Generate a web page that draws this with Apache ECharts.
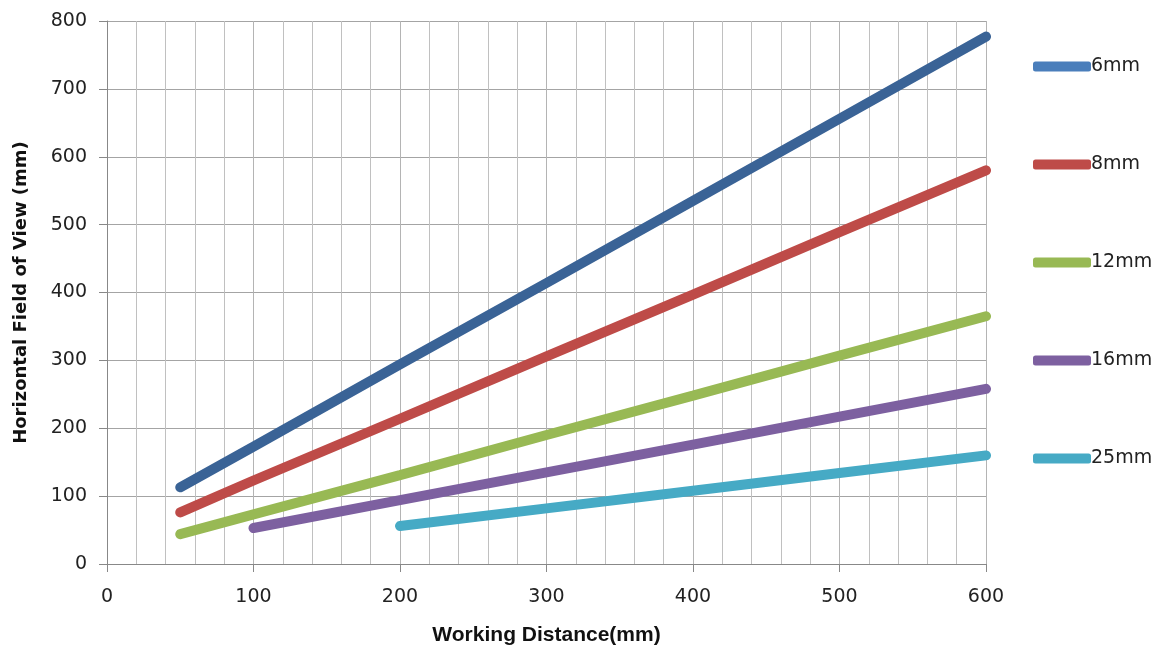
<!DOCTYPE html>
<html>
<head>
<meta charset="utf-8">
<script src="https://cdn.jsdelivr.net/npm/echarts@6/dist/echarts.min.js"></script>
<style>
  html, body { margin: 0; padding: 0; background: #fff; }
  #chart { width: 1167px; height: 652px; }
</style>
</head>
<body>
<div id="chart"></div>
<script>
// working distance (mm) -> horizontal field of view (mm)
const lens6 = [[50, 113], [100, 173], [200, 294], [300, 414], [400, 535], [500, 656], [600, 777]];
const lens8 = [[50, 76], [100, 123], [200, 214], [300, 306], [400, 397], [500, 489], [600, 580]];
const lens12 = [[50, 44], [100, 73], [200, 131], [300, 190], [400, 248], [500, 307], [600, 365]];
const lens16 = [[100, 53], [200, 94], [300, 135], [400, 176], [500, 217], [600, 258]];
const lens25 = [[200, 56], [300, 82], [400, 108], [500, 134], [600, 160]];

const names = ['6mm', '8mm', '12mm', '16mm', '25mm'];
const lineColors = ['#3a6396', '#be4b48', '#98b954', '#7d60a0', '#46aac5'];
const legendColors = ['#4a7ebb', '#be4b48', '#98b954', '#7d60a0', '#46aac5'];
const seriesData = [lens6, lens8, lens12, lens16, lens25];

function init() {
    let option = {
        animation: false,
        grid: {
            left: 107,
            right: 181,
            top: 21,
            bottom: 88
        },
        legend: {
            orient: 'vertical',
            left: 1033,
            top: 57,
            padding: 0,
            itemGap: 79,
            itemWidth: 58,
            itemHeight: 10,
            icon: 'roundRect',
            textStyle: {
                fontFamily: 'DejaVu Sans',
                fontSize: 19,
                color: '#222',
                padding: [0, 0, 0, -5]
            },
            data: names.map((n, i) => ({ name: n, itemStyle: { color: legendColors[i] } }))
        },
        xAxis: {
            type: 'value',
            min: 0,
            max: 600,
            interval: 100,
            name: 'Working Distance(mm)',
            nameLocation: 'middle',
            nameGap: 61,
            nameTextStyle: {
                fontFamily: 'Liberation Sans',
                fontWeight: 'bold',
                fontSize: 21,
                color: '#111'
            },
            axisLine: { show: true, lineStyle: { color: '#888', width: 1 } },
            axisTick: { show: true, length: 8, lineStyle: { color: '#888' } },
            axisLabel: {
                margin: 24,
                fontFamily: 'DejaVu Sans',
                fontSize: 19,
                color: '#222'
            },
            splitLine: { show: true, lineStyle: { color: '#b4b4b4', width: 1 } },
            minorTick: { show: false, splitNumber: 5 },
            minorSplitLine: { show: true, lineStyle: { color: '#c0c0c0', width: 1 } }
        },
        yAxis: {
            type: 'value',
            min: 0,
            max: 800,
            interval: 100,
            name: 'Horizontal Field of View (mm)',
            nameLocation: 'middle',
            nameGap: 77,
            nameTextStyle: {
                fontFamily: 'DejaVu Sans',
                fontWeight: 'bold',
                fontSize: 18,
                color: '#111'
            },
            axisLine: { show: true, lineStyle: { color: '#888', width: 1 } },
            axisTick: { show: true, length: 8, lineStyle: { color: '#888' } },
            axisLabel: {
                margin: 20,
                fontFamily: 'DejaVu Sans',
                fontSize: 19,
                color: '#222'
            },
            splitLine: { show: true, lineStyle: { color: '#a4a4a4', width: 1 } }
        },
        series: names.map((n, i) => ({
            name: n,
            type: 'line',
            data: seriesData[i],
            symbol: 'none',
            smooth: false,
            lineStyle: { color: lineColors[i], width: 10, cap: 'round' },
            itemStyle: { color: lineColors[i] }
        }))
    };

    let chartDom = document.getElementById('chart');
    if (chartDom) {
        let myChart = echarts.init(chartDom);
        option && myChart.setOption(option);
        window.addEventListener('resize', () => {
            myChart.resize();
        });
    }
}

init();
</script>
</body>
</html>
